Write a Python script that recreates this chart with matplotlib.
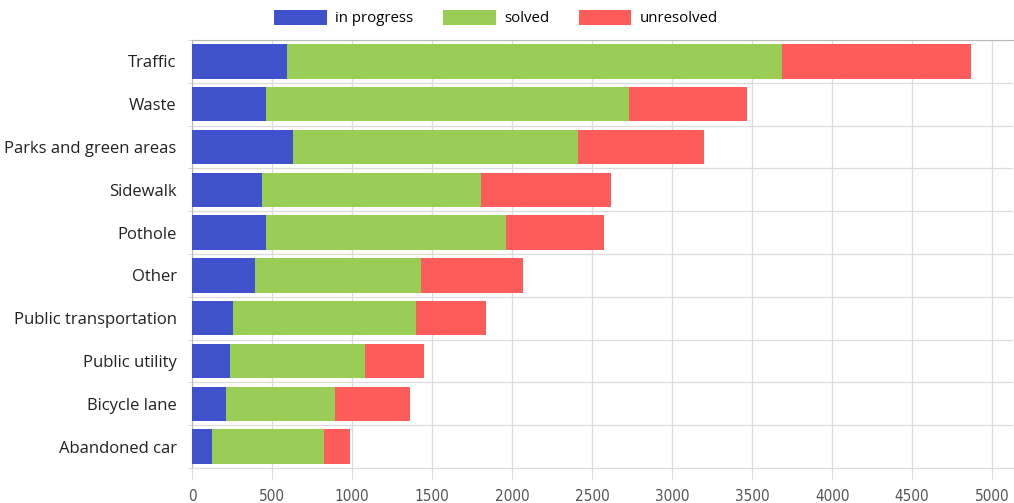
import matplotlib.pyplot as plt
import numpy as np
from matplotlib.ticker import MultipleLocator

categories = [
    "Traffic",
    "Waste",
    "Parks and green areas",
    "Sidewalk",
    "Pothole",
    "Other",
    "Public transportation",
    "Public utility",
    "Bicycle lane",
    "Abandoned car",
]

in_progress = [594, 462, 631, 437, 462, 394, 255, 237, 212, 122]
solved = [3091, 2269, 1781, 1369, 1500, 1037, 1145, 844, 682, 703]
unresolved = [1180, 739, 788, 813, 614, 637, 436, 369, 469, 163]

series_names = ["in progress", "solved", "unresolved"]
colors = ["#3f52cc", "#9acd55", "#fe5b5b"]


def main():

    plt.rcParams["font.family"] = ["Open Sans", "DejaVu Sans"]

    fig = plt.figure(figsize=(10.14, 5.03), dpi=100)
    ax = fig.add_axes([192 / 1014, 1 - 468 / 503, 821 / 1014, 428 / 503])

    y = np.arange(len(categories))
    left = np.zeros(len(categories))

    for name, values, color in zip(series_names, [in_progress, solved, unresolved], colors):
        ax.barh(y, values, left=left, height=0.8, color=color, label=name, zorder=3)
        left += np.array(values)

    ax.set_ylim(len(categories) - 0.5, -0.5)
    ax.set_xlim(0, 5130)

    ax.xaxis.set_major_locator(MultipleLocator(500))
    ax.set_yticks(y)
    ax.set_yticklabels(categories, fontsize=12, color="#222222")
    ax.set_yticks(np.arange(-0.5, len(categories), 1), minor=True)

    ax.grid(True, axis="x", color="#dcdcdc", linewidth=0.9, zorder=0)
    ax.grid(True, axis="y", which="minor", color="#dcdcdc", linewidth=0.9, zorder=0)

    ax.tick_params(axis="y", which="major", length=0, pad=11)
    ax.tick_params(axis="y", which="minor", length=3, color="#cccccc")
    ax.tick_params(axis="x", length=8, color="#dcdcdc", pad=7,
                   labelsize=11, labelcolor="#555555")
    for lbl in ax.get_xticklabels():
        lbl.set_family("DejaVu Sans")
        lbl.set_stretch("condensed")

    ax.spines["right"].set_visible(False)
    ax.spines["top"].set_color("#b8b8b8")
    ax.spines["bottom"].set_color("#dcdcdc")
    ax.spines["left"].set_color("#b8b8b8")

    fig.legend(
        loc="center",
        bbox_to_anchor=(496 / 1014, 1 - 18 / 503),
        ncol=3,
        frameon=False,
        fontsize=10.8,
        handlelength=3.5,
        handleheight=1.15,
        handletextpad=0.55,
        columnspacing=2.0,
    )

    fig.savefig("out.png", dpi=100)


if __name__ == "__main__":

    main()
